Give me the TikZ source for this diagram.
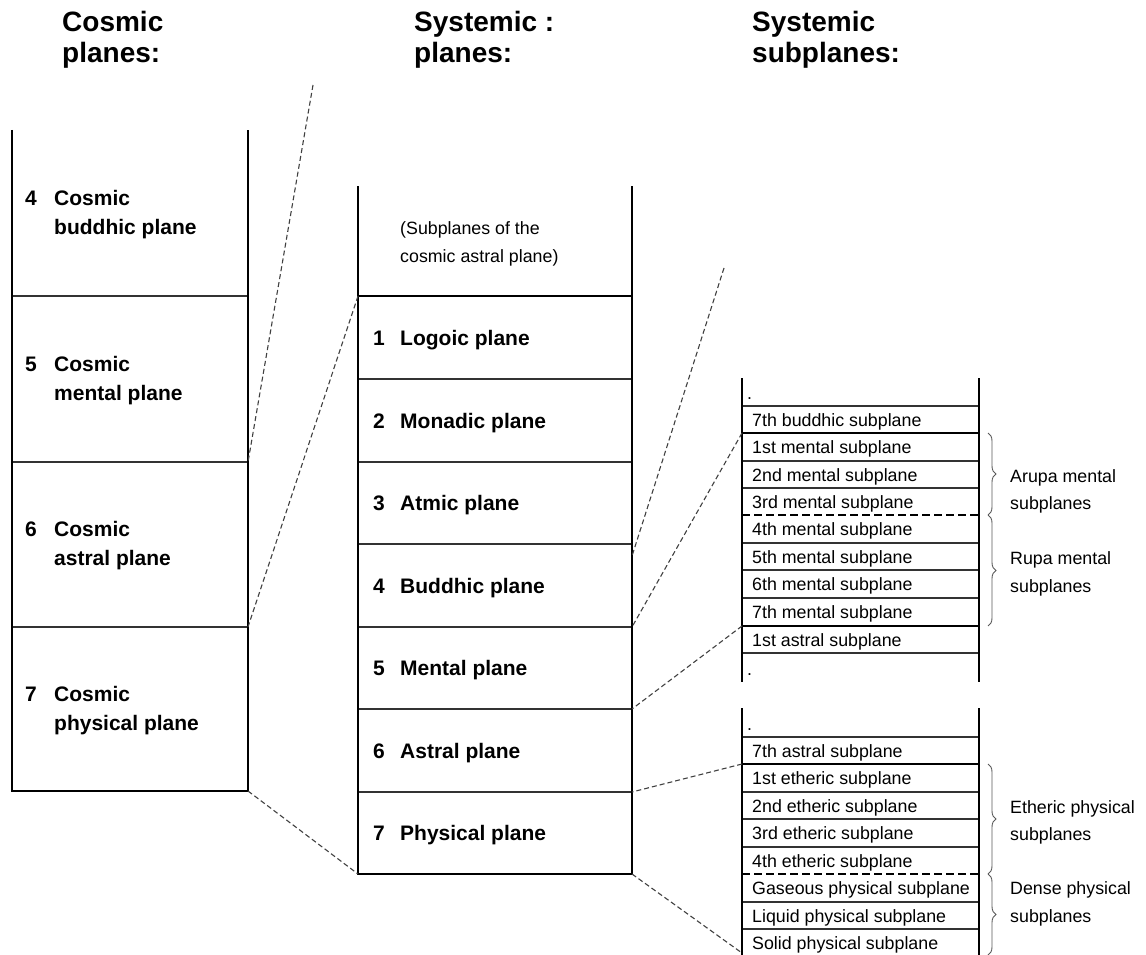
\documentclass[tikz,border=0pt]{standalone}
\usepackage{fontspec}
\setmainfont{Liberation Sans}
\usetikzlibrary{decorations.pathreplacing}

\tikzstyle{wall}=[line width=1.9pt]
\tikzstyle{thin}=[line width=1.1pt, draw=black!80]
\tikzstyle{heavy}=[line width=1.9pt]
\tikzstyle{split}=[line width=1.9pt, dash pattern=on 8pt off 4pt]
\tikzstyle{link}=[line width=1.1pt, draw=black!75, dash pattern=on 5pt off 3pt]
\tikzstyle{head}=[font=\fontsize{28}{32}\selectfont\bfseries, anchor=base west, inner sep=0]
\tikzstyle{plane}=[font=\fontsize{21}{25}\selectfont\bfseries, anchor=base west, inner sep=0]
\tikzstyle{sub}=[font=\fontsize{17.8}{21}\selectfont, anchor=base west, inner sep=0]
\tikzstyle{group}=[decorate, decoration={brace, amplitude=8pt}, line width=0.9pt, draw=black!65]

\begin{document}
\begin{tikzpicture}[x=1pt,y=-1pt]
\def\cosL{12}
\def\cosR{248}
\def\sysL{358}
\def\sysR{632}
\def\subL{742}
\def\subR{979}

\useasboundingbox (0,0) rectangle (1146,955);

%   Headings
	\node[head] (hc1) at (62,32) {Cosmic};
	\node[head] (hc2) at (62,63) {planes:};
	\node[head] (hs1) at (414,32) {Systemic :};
	\node[head] (hs2) at (414,63) {planes:};
	\node[head] (hu1) at (752,32) {Systemic};
	\node[head] (hu2) at (752,63) {subplanes:};

%   Cosmic planes
	\draw[thin] (\cosL,296) -- (\cosR,296);
	\draw[thin] (\cosL,462) -- (\cosR,462);
	\draw[thin] (\cosL,627) -- (\cosR,627);
	\draw[wall] (\cosL,130) -- (\cosL,791) -- (\cosR,791) -- (\cosR,130);

	\node[plane] (c4n) at (25,205) {4};
	\node[plane] (c4a) at (54,205) {Cosmic};
	\node[plane] (c4b) at (54,234) {buddhic plane};
	\node[plane] (c5n) at (25,371) {5};
	\node[plane] (c5a) at (54,371) {Cosmic};
	\node[plane] (c5b) at (54,400) {mental plane};
	\node[plane] (c6n) at (25,536) {6};
	\node[plane] (c6a) at (54,536) {Cosmic};
	\node[plane] (c6b) at (54,565) {astral plane};
	\node[plane] (c7n) at (25,701) {7};
	\node[plane] (c7a) at (54,701) {Cosmic};
	\node[plane] (c7b) at (54,730) {physical plane};

%   Systemic planes
	\draw[heavy] (\sysL,296) -- (\sysR,296);
	\draw[thin] (\sysL,379) -- (\sysR,379);
	\draw[thin] (\sysL,462) -- (\sysR,462);
	\draw[thin] (\sysL,544) -- (\sysR,544);
	\draw[thin] (\sysL,627) -- (\sysR,627);
	\draw[thin] (\sysL,709) -- (\sysR,709);
	\draw[thin] (\sysL,792) -- (\sysR,792);
	\draw[wall] (\sysL,186) -- (\sysL,874) -- (\sysR,874) -- (\sysR,186);

	\node[sub] (note1) at (400,234) {(Subplanes of the};
	\node[sub] (note2) at (400,262) {cosmic astral plane)};
	\node[plane] (s1n) at (373,345) {1};
	\node[plane] (s1) at (400,345) {Logoic plane};
	\node[plane] (s2n) at (373,428) {2};
	\node[plane] (s2) at (400,428) {Monadic plane};
	\node[plane] (s3n) at (373,510) {3};
	\node[plane] (s3) at (400,510) {Atmic plane};
	\node[plane] (s4n) at (373,593) {4};
	\node[plane] (s4) at (400,593) {Buddhic plane};
	\node[plane] (s5n) at (373,675) {5};
	\node[plane] (s5) at (400,675) {Mental plane};
	\node[plane] (s6n) at (373,758) {6};
	\node[plane] (s6) at (400,758) {Astral plane};
	\node[plane] (s7n) at (373,840) {7};
	\node[plane] (s7) at (400,840) {Physical plane};

%   Mental subplanes
	\draw[thin] (\subL,406) -- (\subR,406);
	\draw[heavy] (\subL,433) -- (\subR,433);
	\draw[thin] (\subL,461) -- (\subR,461);
	\draw[thin] (\subL,488) -- (\subR,488);
	\draw[split] (\subL,515) -- (\subR,515);
	\draw[thin] (\subL,543) -- (\subR,543);
	\draw[thin] (\subL,570) -- (\subR,570);
	\draw[thin] (\subL,598) -- (\subR,598);
	\draw[heavy] (\subL,626) -- (\subR,626);
	\draw[thin] (\subL,653) -- (\subR,653);
	\draw[wall] (\subL,378) -- (\subL,682);
	\draw[wall] (\subR,378) -- (\subR,682);

	\node[sub] (dot1) at (747,399) {.};
	\node[sub] (b7) at (752,426) {7th buddhic subplane};
	\node[sub] (m1) at (752,453) {1st mental subplane};
	\node[sub] (m2) at (752,481) {2nd mental subplane};
	\node[sub] (m3) at (752,508) {3rd mental subplane};
	\node[sub] (m4) at (752,535) {4th mental subplane};
	\node[sub] (m5) at (752,563) {5th mental subplane};
	\node[sub] (m6) at (752,590) {6th mental subplane};
	\node[sub] (m7) at (752,618) {7th mental subplane};
	\node[sub] (a1) at (752,646) {1st astral subplane};
	\node[sub] (dot2) at (747,675) {.};

	\draw[group] (988,433) -- (988,515);
	\draw[group] (988,515) -- (988,626);
	\node[sub] (arupa1) at (1010,482) {Arupa mental};
	\node[sub] (arupa2) at (1010,509) {subplanes};
	\node[sub] (rupa1) at (1010,564) {Rupa mental};
	\node[sub] (rupa2) at (1010,592) {subplanes};

%   Physical subplanes
	\draw[thin] (\subL,737) -- (\subR,737);
	\draw[heavy] (\subL,764) -- (\subR,764);
	\draw[thin] (\subL,792) -- (\subR,792);
	\draw[thin] (\subL,819) -- (\subR,819);
	\draw[thin] (\subL,847) -- (\subR,847);
	\draw[split] (\subL,874) -- (\subR,874);
	\draw[thin] (\subL,902) -- (\subR,902);
	\draw[thin] (\subL,929) -- (\subR,929);
	\draw[wall] (\subL,708) -- (\subL,956);
	\draw[wall] (\subR,708) -- (\subR,956);

	\node[sub] (dot3) at (747,730) {.};
	\node[sub] (a7) at (752,757) {7th astral subplane};
	\node[sub] (e1) at (752,784) {1st etheric subplane};
	\node[sub] (e2) at (752,812) {2nd etheric subplane};
	\node[sub] (e3) at (752,839) {3rd etheric subplane};
	\node[sub] (e4) at (752,867) {4th etheric subplane};
	\node[sub] (gas) at (752,894) {Gaseous physical subplane};
	\node[sub] (liq) at (752,922) {Liquid physical subplane};
	\node[sub] (sol) at (752,949) {Solid physical subplane};

	\draw[group] (988,764) -- (988,874);
	\draw[group] (988,874) -- (988,955);
	\node[sub] (eth1) at (1010,813) {Etheric physical};
	\node[sub] (eth2) at (1010,840) {subplanes};
	\node[sub] (den1) at (1010,894) {Dense physical};
	\node[sub] (den2) at (1010,922) {subplanes};

%   Projection lines
	\coordinate (free1) at (313,85);
	\coordinate (free2) at (724,268);
	\coordinate (c56) at (\cosR,462);
	\coordinate (c67) at (\cosR,627);
	\coordinate (c7e) at (\cosR,791);
	\coordinate (s0l) at (\sysL,296);
	\coordinate (s7l) at (\sysL,874);
	\coordinate (s34) at (\sysR,556);
	\coordinate (s45) at (\sysR,627);
	\coordinate (s56) at (\sysR,709);
	\coordinate (s67) at (\sysR,792);
	\coordinate (s7r) at (\sysR,874);
	\coordinate (mtop) at (\subL,433);
	\coordinate (mend) at (\subL,626);
	\coordinate (etop) at (\subL,764);
	\coordinate (eend) at (\subL,953);

	\draw[link] (free1) -- (c56);
	\draw[link] (s0l) -- (c67);
	\draw[link] (c7e) -- (s7l);
	\draw[link] (free2) -- (s34);
	\draw[link] (mtop) -- (s45);
	\draw[link] (mend) -- (s56);
	\draw[link] (etop) -- (s67);
	\draw[link] (s7r) -- (eend);

\end{tikzpicture}
\end{document}
